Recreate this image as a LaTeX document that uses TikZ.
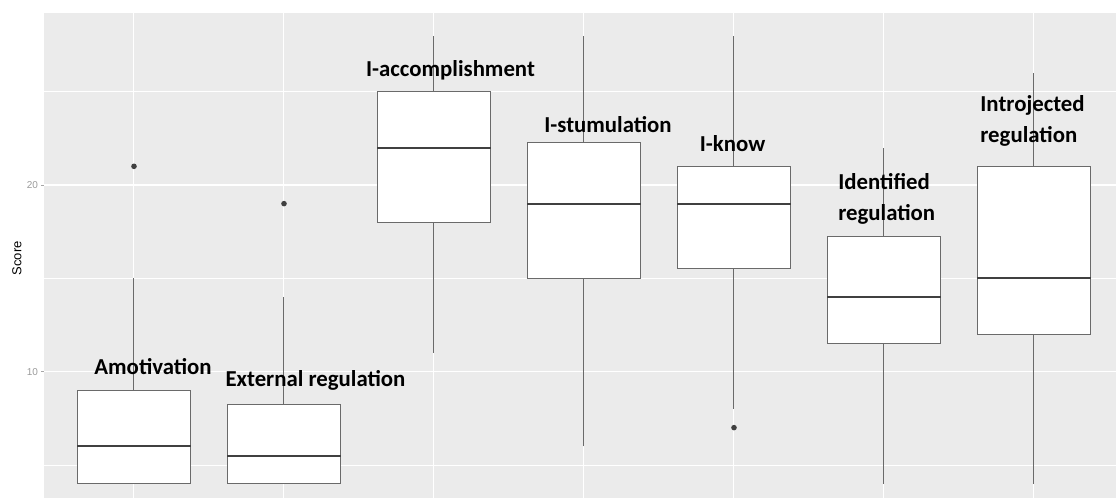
\documentclass[tikz,border=0pt]{standalone}
\usepackage{fontspec}
\setmainfont{Liberation Sans}
\newfontfamily\labelfont{Carlito}
\usepackage{xcolor}
\definecolor{panelgrey}{HTML}{EBEBEB}
\definecolor{boxline}{HTML}{6A6A6A}
\definecolor{medline}{HTML}{404040}
\definecolor{ticktext}{HTML}{9A9A9A}

\begin{document}
\begin{tikzpicture}[x=75pt, y=9.3333pt,
    boxlabel/.style={font=\labelfont\bfseries\fontsize{11.4}{15.4}\selectfont, inner sep=0pt},
    ticklabel/.style={font=\fontsize{5}{6}\selectfont, text=ticktext, inner sep=0pt, anchor=east}]
    % Canvas and panel
    \useasboundingbox (0.1067,3.235) rectangle (7.5467,29.91);
    \fill[panelgrey] (0.4,3.235) rectangle (7.5467,29.21);

    % Grid lines
    \foreach \v in {5,15,25}
        \draw[white, line width=0.35pt] (0.4,\v) -- (7.5467,\v);
    \foreach \v in {10,20}
        \draw[white, line width=0.6pt] (0.4,\v) -- (7.5467,\v);
    \foreach \i in {1,...,7}
        \draw[white, line width=0.5pt] (\i,3.235) -- (\i,29.21);

    % Axis ticks and labels
    \foreach \v in {10,20} {
        \draw[gray!70, line width=0.4pt] (0.38,\v) -- (0.4,\v);
        \node[ticklabel] (tick\v) at (0.363,\v) {\v};
    }
    \node[rotate=90, font=\fontsize{6.5}{7}\selectfont, inner sep=0pt] (ylab) at (0.22,16.07) {Score};

    % Boxes: index / lower whisker / q1 / median / q3 / upper whisker
    \foreach \i/\lo/\qa/\md/\qb/\hi in {1/4/4/6/9/15, 2/4/4/5.5/8.25/14, 3/11/18/22/25/28,
        4/6/15/19/22.25/28, 5/8/15.5/19/21/28, 6/4/11.5/14/17.25/22, 7/4/12/15/21/26} {
        \draw[boxline, line width=0.5pt] (\i,\qb) -- (\i,\hi);
        \draw[boxline, line width=0.5pt] (\i,\lo) -- (\i,\qa);
        \draw[boxline, fill=white, line width=0.5pt] (\i-0.378,\qa) rectangle (\i+0.378,\qb);
        \draw[medline, line width=0.9pt] (\i-0.378,\md) -- (\i+0.378,\md);
    }

    % Outliers
    \foreach \i/\v in {1/21, 2/19, 5/7}
        \fill[medline] (\i,\v) circle (1.4pt);

    % Labels
    \node[boxlabel, anchor=base] (amot) at (1.127,9.86) {Amotivation};
    \node[boxlabel, anchor=base] (extreg) at (2.21,9.20) {External regulation};
    \node[boxlabel, anchor=base] (iacc) at (3.11,25.80) {I-accomplishment};
    \node[boxlabel, anchor=base] (istim) at (4.16,22.80) {I-stumulation};
    \node[boxlabel, anchor=base] (iknow) at (4.99,21.78) {I-know};
    \node[boxlabel, anchor=base west, align=left] (idreg) at (5.693,18.09) {Identified\\regulation};
    \node[boxlabel, anchor=base west, align=left] (intreg) at (6.64,22.27) {Introjected\\regulation};
\end{tikzpicture}
\end{document}
